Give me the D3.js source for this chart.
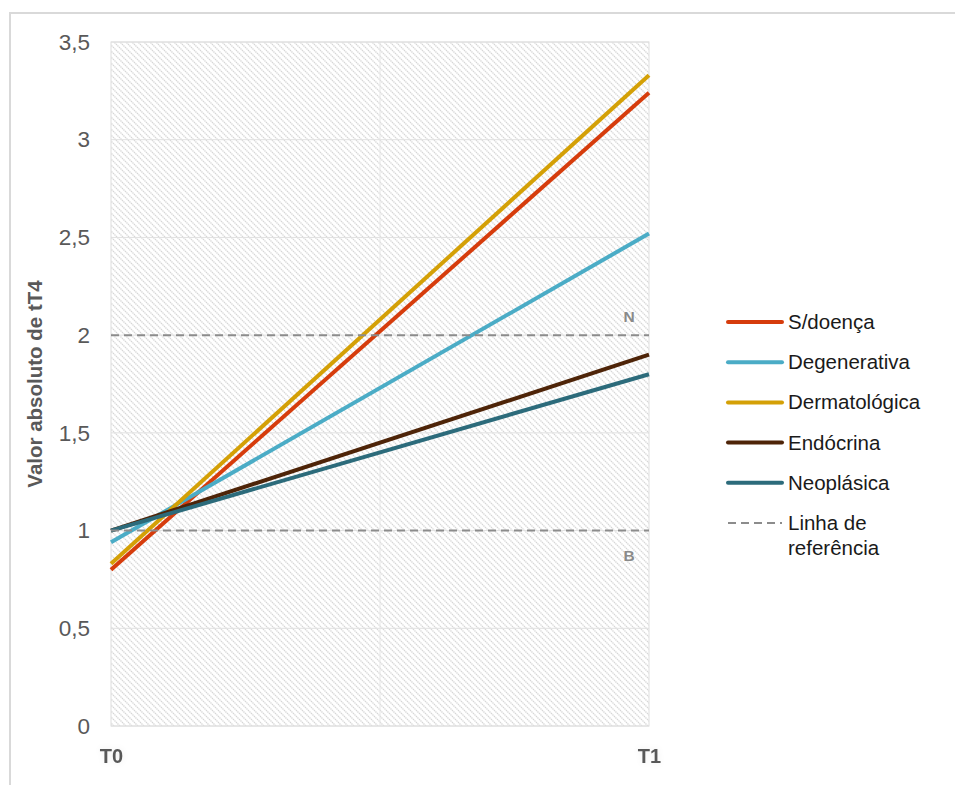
<!DOCTYPE html>
<html lang="pt">
<head>
    <meta charset="UTF-8">
    <title>Valor absoluto de tT4</title>
    <style>
        body { margin: 0; background: #ffffff; }
        svg { display: block; font-family: "Liberation Sans", Arial, sans-serif; }
    </style>
</head>
<body>

<div id="content"></div>

<script src="https://d3js.org/d3.v7.min.js"></script>
<script>

    // data:
    var categories = ["T0", "T1"];
    var yTicks = [0, 0.5, 1, 1.5, 2, 2.5, 3, 3.5];

    var seriesNames = ["S/doença", "Degenerativa", "Dermatológica", "Endócrina", "Neoplásica"];
    var sDoenca = [0.80, 3.24],
        degenerativa = [0.94, 2.52],
        dermatologica = [0.83, 3.33],
        endocrina = [1.0, 1.9],
        neoplasica = [1.0, 1.8];

    // reference lines (N = normal, B = baixo)
    var refLabels = ["N", "B"];
    var refValues = [2, 1];

    var colors = ["#d63c0c", "#4bacc6", "#d4a006", "#4e2408", "#2c6b7b"];

    var width = 955, height = 785;
    var plotLeft = 111, plotRight = 649, plotTop = 42, plotBottom = 726;

    var svg = d3.select("#content")
        .append("svg")
        .attr("width", width)
        .attr("height", height);

    // hatched background pattern
    var defs = svg.append("defs");
    var pattern = defs.append("pattern")
        .attr("id", "hatch")
        .attr("patternUnits", "userSpaceOnUse")
        .attr("width", 6)
        .attr("height", 6);
    pattern.append("path")
        .attr("d", "M-1,-1 L7,7 M-1,5 L1,7 M5,-1 L7,1")
        .attr("stroke", "#d6d6d6")
        .attr("stroke-width", 1.3)
        .attr("stroke-dasharray", "1.4,0.7");

    var glow = defs.append("filter").attr("id", "glow")
        .attr("x", "-50%").attr("y", "-50%").attr("width", "200%").attr("height", "200%");
    glow.append("feGaussianBlur").attr("in", "SourceAlpha").attr("stdDeviation", 3).attr("result", "b");
    glow.append("feFlood").attr("flood-color", "#000000").attr("flood-opacity", 0.07);
    glow.append("feComposite").attr("in2", "b").attr("operator", "in").attr("result", "g");
    var merge = glow.append("feMerge");
    merge.append("feMergeNode").attr("in", "g");
    merge.append("feMergeNode").attr("in", "SourceGraphic");

    // outer frame
    svg.append("rect")
        .attr("x", 10)
        .attr("y", 13)
        .attr("width", width + 20)
        .attr("height", height + 20)
        .attr("fill", "none")
        .attr("stroke", "#d9d9d9")
        .attr("stroke-width", 2);

    // scales
    var xScale = d3.scalePoint().domain(categories).range([plotLeft, plotRight]);
    var yScale = d3.scaleLinear().domain([0, 3.5]).range([plotBottom, plotTop]);

    svg.append("rect")
        .attr("x", plotLeft)
        .attr("y", plotTop)
        .attr("width", plotRight - plotLeft)
        .attr("height", plotBottom - plotTop)
        .attr("fill", "url(#hatch)");

    // gridlines
    svg.append("g")
        .selectAll("line")
        .data(yTicks)
        .join("line")
        .attr("x1", plotLeft)
        .attr("x2", plotRight)
        .attr("y1", function (d) { return yScale(d); })
        .attr("y2", function (d) { return yScale(d); })
        .attr("stroke", "#e0e0e0")
        .attr("stroke-width", 1);

    svg.append("line")
        .attr("x1", (plotLeft + plotRight) / 2)
        .attr("x2", (plotLeft + plotRight) / 2)
        .attr("y1", plotTop)
        .attr("y2", plotBottom)
        .attr("stroke", "#e6e6e6")
        .attr("stroke-width", 1);

    svg.append("rect")
        .attr("x", plotLeft)
        .attr("y", plotTop)
        .attr("width", plotRight - plotLeft)
        .attr("height", plotBottom - plotTop)
        .attr("fill", "none")
        .attr("stroke", "#dedede")
        .attr("stroke-width", 1);

    // y axis
    var yAxis = d3.axisLeft(yScale)
        .tickValues(yTicks)
        .tickSize(0)
        .tickPadding(21)
        .tickFormat(function (d) { return String(d).replace(".", ","); });

    var yAxisG = svg.append("g")
        .attr("transform", "translate(" + plotLeft + ",0)")
        .call(yAxis);
    yAxisG.select(".domain").remove();
    yAxisG.selectAll("text")
        .attr("font-size", 22.5)
        .attr("font-family", "Liberation Sans, Arial, sans-serif")
        .attr("fill", "#595959");

    // x axis
    var xAxis = d3.axisBottom(xScale).tickSize(0).tickPadding(23);
    var xAxisG = svg.append("g")
        .attr("transform", "translate(0," + plotBottom + ")")
        .call(xAxis);
    xAxisG.select(".domain").remove();
    xAxisG.selectAll("text")
        .attr("font-size", 20)
        .attr("font-weight", "bold")
        .attr("font-family", "Liberation Sans, Arial, sans-serif")
        .attr("fill", "#595959")
        .attr("filter", "url(#glow)");

    // y axis title
    svg.append("text")
        .attr("transform", "translate(42," + ((plotTop + plotBottom) / 2) + ") rotate(-90)")
        .attr("text-anchor", "middle")
        .attr("font-size", 20.5)
        .attr("font-weight", "bold")
        .attr("fill", "#595959")
        .text("Valor absoluto de tT4");

    // series lines
    var allSeries = [sDoenca, degenerativa, dermatologica, endocrina, neoplasica];

    var lineSegment = d3.line()
        .x(function (d, i) { return xScale(categories[i]); })
        .y(function (d) { return yScale(d); });

    svg.append("g")
        .selectAll("path")
        .data(allSeries)
        .join("path")
        .attr("d", lineSegment)
        .attr("fill", "none")
        .attr("stroke", function (d, i) { return colors[i]; })
        .attr("stroke-width", 4);

    // reference lines
    svg.append("g")
        .selectAll("line")
        .data(refValues)
        .join("line")
        .attr("x1", plotLeft)
        .attr("x2", plotRight)
        .attr("y1", function (d) { return yScale(d); })
        .attr("y2", function (d) { return yScale(d); })
        .attr("stroke", "#8c8c8c")
        .attr("stroke-width", 2)
        .attr("stroke-dasharray", "8,5");

    svg.append("g")
        .selectAll("text")
        .data(refValues)
        .join("text")
        .attr("x", plotRight - 20)
        .attr("y", function (d, i) { return yScale(d) + (i === 0 ? -13 : 30); })
        .attr("text-anchor", "middle")
        .attr("font-size", 15.5)
        .attr("font-weight", "bold")
        .attr("fill", "#8a8a8a")
        .text(function (d, i) { return refLabels[i]; });

    // legend
    var legendX = 728, legendY = 322, legendStep = 40.2;
    var legend = svg.append("g");
    var items = seriesNames.concat(["Linha de"]);

    legend.selectAll("line")
        .data(items)
        .join("line")
        .attr("x1", legendX)
        .attr("x2", legendX + 54)
        .attr("y1", function (d, i) { return legendY + i * legendStep; })
        .attr("y2", function (d, i) { return legendY + i * legendStep; })
        .attr("stroke", function (d, i) { return i < colors.length ? colors[i] : "#8c8c8c"; })
        .attr("stroke-width", function (d, i) { return i < colors.length ? 4 : 2; })
        .attr("stroke-linecap", function (d, i) { return i < colors.length ? "round" : "butt"; })
        .attr("stroke-dasharray", function (d, i) { return i < colors.length ? null : "8,5"; });

    legend.selectAll("text")
        .data(items)
        .join("text")
        .attr("x", legendX + 60)
        .attr("y", function (d, i) { return legendY + i * legendStep + 7; })
        .attr("font-size", 20.5)
        .attr("fill", "#1a1a1a")
        .text(function (d) { return d; });

    legend.append("text")
        .attr("x", legendX + 60)
        .attr("y", legendY + 5 * legendStep + 32)
        .attr("font-size", 20.5)
        .attr("fill", "#1a1a1a")
        .text("referência");

</script>

</body>
</html>
